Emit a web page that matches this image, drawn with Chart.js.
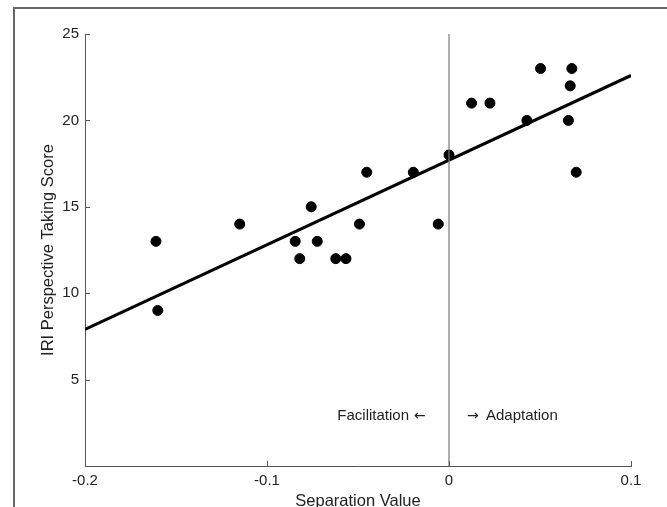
<!DOCTYPE html>
<html>
<head>
<meta charset="utf-8">
<script src="https://cdn.jsdelivr.net/npm/chart.js@4/dist/chart.umd.min.js"></script>
<style>
  html, body { margin: 0; padding: 0; background: #fff; }
  #wrap { width: 667px; height: 507px; }
</style>
</head>
<body>
<div id="wrap"><canvas id="scatterChart" width="667" height="507"></canvas></div>
<script>
// data
var sepValues = [-0.161, -0.160, -0.115, -0.0757, -0.0845, -0.0724, -0.082, -0.0622, -0.0566,
                 -0.0492, -0.0452, -0.0196, -0.0059, 0.0, 0.0124, 0.0225, 0.0428, 0.0503,
                 0.0675, 0.0666, 0.0656, 0.0699];
var iriScores = [13, 9, 14, 15, 13, 13, 12, 12, 12,
                 14, 17, 17, 14, 18, 21, 21, 20, 23,
                 23, 22, 20, 17];
var fitX = [-0.2, 0.1];
var fitY = [7.9, 22.6];
var zeroLineY = [0, 25];
var xTicks = [-0.2, -0.1, 0, 0.1];
var yTicks = [5, 10, 15, 20, 25];

var fontFamily = "'Liberation Sans', Arial, sans-serif";
var textColor = "#222";
var axisColor = "#555";

document.addEventListener("DOMContentLoaded", function() {
  var points = sepValues.map(function(x, i) { return { x: x, y: iriScores[i] }; });
  var fitLine = fitX.map(function(x, i) { return { x: x, y: fitY[i] }; });
  var zeroLine = zeroLineY.map(function(y) { return { x: 0, y: y }; });

  // frame, inner tick marks and the two labels
  var extras = {
    id: "extras",
    beforeDraw: function(chart) {
      var ctx = chart.ctx;
      ctx.save();
      ctx.fillStyle = "#fff";
      ctx.fillRect(0, 0, chart.width, chart.height);
      ctx.strokeStyle = "#666";
      ctx.lineWidth = 2;
      ctx.strokeRect(14, 8, 720, 620);
      ctx.restore();
    },
    afterDraw: function(chart) {
      var ctx = chart.ctx;
      var xs = chart.scales.x, ys = chart.scales.y;
      ctx.save();
      ctx.strokeStyle = axisColor;
      ctx.lineWidth = 1;
      ctx.beginPath();
      yTicks.forEach(function(v) {
        var py = Math.round(ys.getPixelForValue(v)) + 0.5;
        ctx.moveTo(xs.left, py);
        ctx.lineTo(xs.left + 5, py);
      });
      xTicks.forEach(function(v) {
        var px = Math.round(xs.getPixelForValue(v)) + 0.5;
        ctx.moveTo(px, ys.bottom);
        ctx.lineTo(px, ys.bottom - 5);
      });
      ctx.stroke();

      // labels either side of the zero line
      var x0 = xs.getPixelForValue(0);
      var ty = ys.getPixelForValue(2.93);
      ctx.fillStyle = textColor;
      ctx.textBaseline = "middle";
      ctx.font = "15px " + fontFamily;
      ctx.textAlign = "right";
      ctx.fillText("Facilitation", x0 - 40, ty);
      ctx.textAlign = "left";
      ctx.fillText("Adaptation", x0 + 37, ty);
      ctx.font = "14px 'DejaVu Sans', sans-serif";
      ctx.textAlign = "left";
      ctx.fillText("\u2190", x0 - 35, ty + 1);
      ctx.fillText("\u2192", x0 + 18, ty + 1);
      ctx.restore();
    }
  };

  var ctx = document.getElementById("scatterChart").getContext("2d");
  new Chart(ctx, {
    type: "scatter",
    data: {
      datasets: [
        {
          label: "zero",
          type: "line",
          data: zeroLine,
          borderColor: "#777",
          borderWidth: 1.2,
          pointRadius: 0,
          fill: false
        },
        {
          label: "fit",
          type: "line",
          data: fitLine,
          borderColor: "#000",
          borderWidth: 3,
          pointRadius: 0,
          fill: false
        },
        {
          label: "subjects",
          data: points,
          backgroundColor: "#000",
          borderColor: "#000",
          pointRadius: 5,
          pointHoverRadius: 5
        }
      ]
    },
    options: {
      responsive: false,
      animation: false,
      layout: { padding: { left: 0, top: 34, right: 36, bottom: 0 } },
      plugins: {
        legend: { display: false },
        tooltip: { enabled: false }
      },
      scales: {
        x: {
          type: "linear",
          min: -0.2,
          max: 0.1,
          afterBuildTicks: function(s) { s.ticks = xTicks.map(function(v) { return { value: v }; }); },
          afterFit: function(s) { s.height = 41; },
          grid: { display: false, drawTicks: false },
          border: { display: true, color: axisColor, width: 1 },
          ticks: {
            padding: 6,
            maxRotation: 0,
            color: textColor,
            font: { family: fontFamily, size: 15 },
            callback: function(v) { return String(v); }
          },
          title: {
            display: true,
            text: "Separation Value",
            color: textColor,
            font: { family: fontFamily, size: 16.5 },
            padding: { top: 0, bottom: -4 }
          }
        },
        y: {
          type: "linear",
          min: 0,
          max: 25,
          afterBuildTicks: function(s) { s.ticks = yTicks.map(function(v) { return { value: v }; }); },
          afterFit: function(s) { s.width = 85; },
          grid: { display: false, drawTicks: false },
          border: { display: true, color: axisColor, width: 1 },
          ticks: {
            padding: 6,
            color: textColor,
            font: { family: fontFamily, size: 15 },
            callback: function(v) { return String(v); }
          },
          title: {
            display: true,
            text: "IRI Perspective Taking Score",
            color: textColor,
            font: { family: fontFamily, size: 16.5 },
            padding: { top: 39, bottom: 0 }
          }
        }
      }
    },
    plugins: [extras]
  });
});
</script>
</body>
</html>
